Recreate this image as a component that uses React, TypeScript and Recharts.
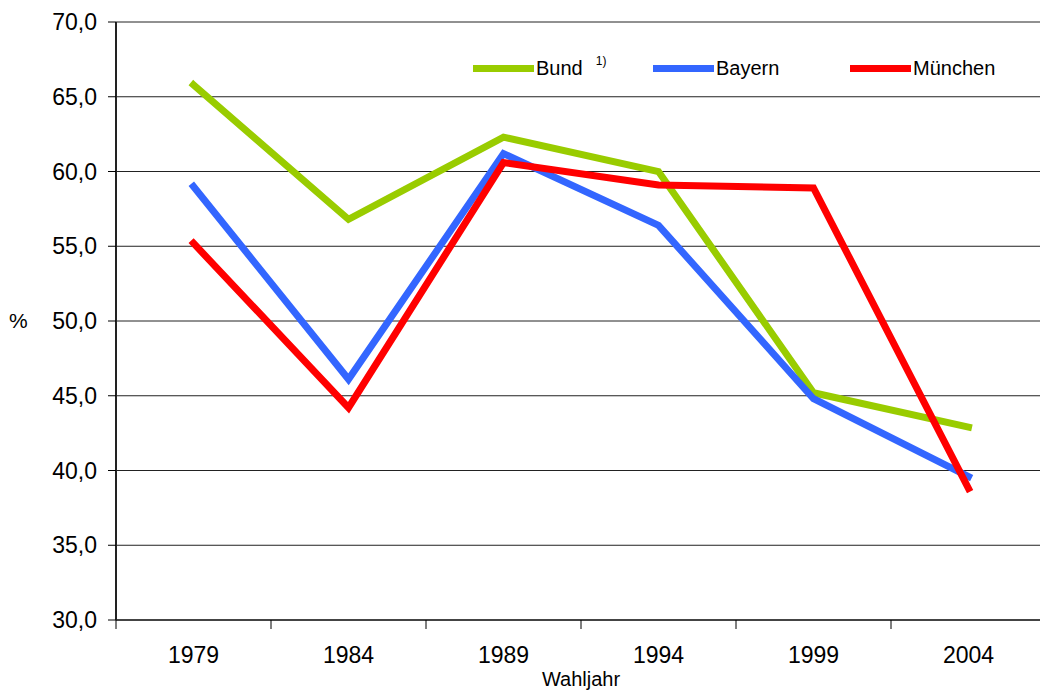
import { LineChart, Line, XAxis, YAxis, CartesianGrid, Legend } from 'recharts'

const years = ['1979', '1984', '1989', '1994', '1999', '2004']
const bund = [65.8, 56.8, 62.3, 60.0, 45.2, 42.9]
const bayern = [59.0, 46.1, 61.2, 56.4, 44.8, 39.6]
const muenchen = [55.2, 44.2, 60.6, 59.1, 58.9, 38.8]
const yTicks = [30, 35, 40, 45, 50, 55, 60, 65, 70]
const seriesNames = ['Bund', 'Bayern', 'München']

// years sit in the middle of each category slot, tick marks on the slot borders
const data = years.map((year, i) => ({
  pos: i + 0.5,
  year,
  bund: bund[i],
  bayern: bayern[i],
  muenchen: muenchen[i],
}))
const xTicks = Array.from({ length: years.length * 2 + 1 }, (_, i) => i / 2)

const FONT = '"Liberation Sans", Arial, sans-serif'

function XTick(props: any) {
  const { x, y, payload } = props
  const v = payload.value
  if (Number.isInteger(v)) {
    return <line x1={x} x2={x} y1={y} y2={y + 9} stroke="#000" strokeWidth={1} />
  }
  const label = years[Math.floor(v)]
  return (
    <text x={x} y={y + 43} textAnchor="middle" fontSize={23} fill="#000">
      {label}
    </text>
  )
}

function LegendContent(props: any) {
  const widths = [180, 197, 200]
  const payload = [...(props.payload || [])].sort(
    (a: any, b: any) => seriesNames.indexOf(a.value) - seriesNames.indexOf(b.value)
  )
  return (
    <div style={{ display: 'flex', fontFamily: FONT, fontSize: 20, color: '#000', lineHeight: '23px' }}>
      {payload.map((entry: any, idx: number) => (
        <div key={entry.value} style={{ display: 'flex', alignItems: 'center', width: widths[idx] }}>
          <span style={{ display: 'inline-block', width: 61, height: 7, background: entry.color, marginRight: 2 }} />
          <span>{entry.value}</span>
          {entry.value === 'Bund' && (
            <span style={{ fontSize: 12, marginLeft: 13, position: 'relative', top: -7 }}>1)</span>
          )}
        </div>
      ))}
    </div>
  )
}

export default function App() {
  return (
    <div style={{ position: 'absolute', left: 0, top: 0, width: 1040, height: 690, overflow: 'hidden', background: '#fff', fontFamily: FONT }}>
      <LineChart width={1060} height={690} data={data} margin={{ top: 22, right: 14, left: 0, bottom: 0 }}>
        <CartesianGrid vertical={false} stroke="#222" strokeWidth={1} />
        <XAxis
          dataKey="pos"
          type="number"
          domain={[0, 6]}
          ticks={xTicks}
          interval={0}
          tick={<XTick />}
          tickLine={false}
          tickSize={0}
          tickMargin={0}
          height={70}
          axisLine={{ stroke: '#444', strokeWidth: 2 }}
          label={{ value: 'Wahljahr', position: 'insideBottom', offset: 4, fontSize: 20, fill: '#000' }}
        />
        <YAxis
          type="number"
          domain={[30, 70]}
          ticks={yTicks}
          interval={0}
          width={116}
          tickSize={8}
          tickMargin={11}
          tick={{ fontSize: 23, fill: '#000' }}
          tickFormatter={(v: number) => v.toFixed(1).replace('.', ',')}
          tickLine={{ stroke: '#000' }}
          axisLine={{ stroke: '#222', strokeWidth: 2 }}
          label={{ value: '%', position: 'insideLeft', offset: 9, fontSize: 21, fill: '#000' }}
        />
        <Legend
          verticalAlign="middle"
          align="center"
          content={<LegendContent />}
          wrapperStyle={{ top: 57, left: 473, width: 580 }}
        />
        <Line type="linear" dataKey="bund" name="Bund" stroke="#99cc00" strokeWidth={7} strokeLinecap="square" dot={false} isAnimationActive={false} />
        <Line type="linear" dataKey="bayern" name="Bayern" stroke="#3366ff" strokeWidth={7} strokeLinecap="square" dot={false} isAnimationActive={false} />
        <Line type="linear" dataKey="muenchen" name="München" stroke="#ff0000" strokeWidth={7} strokeLinecap="square" dot={false} isAnimationActive={false} />
      </LineChart>
    </div>
  )
}
